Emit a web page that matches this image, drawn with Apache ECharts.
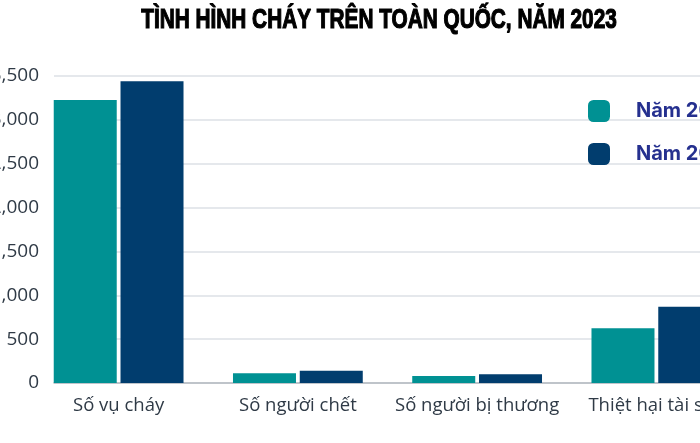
<!DOCTYPE html>
<html>
<head>
<meta charset="utf-8">
<script src="https://cdn.jsdelivr.net/npm/echarts@6/dist/echarts.min.js"></script>
<style>
  html, body { margin: 0; padding: 0; background: #fff; overflow: hidden; }
  /* the source picture is cropped on the right, so the drawing runs past the window */
  #chart { width: 760px; height: 443px; }
</style>
</head>
<body>
<div id="chart"></div>
<script>
// data
const categories = ['Số vụ cháy', 'Số người chết', 'Số người bị thương', 'Thiệt hại tài sản']
const seriesNames = ['Năm 2022', 'Năm 2023']
const values2022 = [3225, 110, 80, 625]
const values2023 = [3440, 140, 100, 870]
const yTicks = { min: 0, max: 3500, interval: 500 }

const titleText = 'TÌNH HÌNH CHÁY TRÊN TOÀN QUỐC, NĂM 2023'
const colors = ['#009193', '#013d6e']
const gridTop = 76, gridBottom = 60

let chart = echarts.init(document.getElementById('chart'))

let option = {
    animation: false,
    // condensed heavy title: no narrow font installed, so squeeze a bold one
    graphic: [{
        type: 'text',
        x: 379,
        y: 7,
        scaleX: 0.77,
        style: {
            text: titleText,
            font: 'bold 27px "Liberation Sans", sans-serif',
            fill: '#000',
            stroke: '#000',
            lineWidth: 1.2,
            textAlign: 'center',
            textVerticalAlign: 'top',
        },
    }],
    legend: {
        orient: 'vertical',
        left: 588,
        top: 100,
        padding: 0,
        itemWidth: 22,
        itemHeight: 22,
        itemGap: 21,
        icon: 'roundRect',
        data: seriesNames,
        textStyle: {
            fontFamily: 'Inter, sans-serif',
            fontWeight: 'bold',
            fontSize: 20,
            color: '#25308f',
            padding: [0, 0, 0, 21],
        },
    },
    // grid 0 draws the value frame, grid 1 holds the bars
    // labels are allowed to run out of the page (the source is cropped)
    grid: [
        { left: 54, top: gridTop, bottom: gridBottom, right: 0, outerBoundsMode: 'none' },
        { left: 29, top: gridTop, bottom: gridBottom, width: 717, outerBoundsMode: 'none' },
    ],
    xAxis: [
        {
            gridIndex: 0, type: 'value', min: 0, max: 1,
            axisLabel: { show: false }, axisTick: { show: false }, splitLine: { show: false },
            axisLine: { show: true, lineStyle: { color: '#b3b8be', width: 1.5 } },
        },
        {
            gridIndex: 1, type: 'category', data: categories,
            axisLine: { show: false }, axisTick: { show: false },
            axisLabel: {
                interval: 0, margin: 13,
                fontFamily: 'Open Sans, sans-serif', fontSize: 18.5, color: '#2f3a46',
            },
        },
    ],
    yAxis: [
        {
            gridIndex: 0, type: 'value',
            min: yTicks.min, max: yTicks.max, interval: yTicks.interval,
            axisLine: { show: false }, axisTick: { show: false },
            axisLabel: {
                margin: 15,
                fontFamily: 'Open Sans, sans-serif', fontSize: 19, color: '#2f3a46',
                formatter: v => v.toLocaleString('en-US'),
            },
            splitLine: { lineStyle: { color: '#dde1e6', width: 1.5 } },
        },
        {
            gridIndex: 1, type: 'value',
            min: yTicks.min, max: yTicks.max, interval: yTicks.interval,
            show: false, splitLine: { show: false },
        },
    ],
    series: [
        {
            name: seriesNames[0], type: 'bar', xAxisIndex: 1, yAxisIndex: 1,
            data: values2022, barWidth: 63, barGap: '6%',
            itemStyle: { color: colors[0] },
        },
        {
            name: seriesNames[1], type: 'bar', xAxisIndex: 1, yAxisIndex: 1,
            data: values2023, barWidth: 63, barGap: '6%',
            itemStyle: { color: colors[1] },
        },
    ],
}

chart.setOption(option)
</script>
</body>
</html>
